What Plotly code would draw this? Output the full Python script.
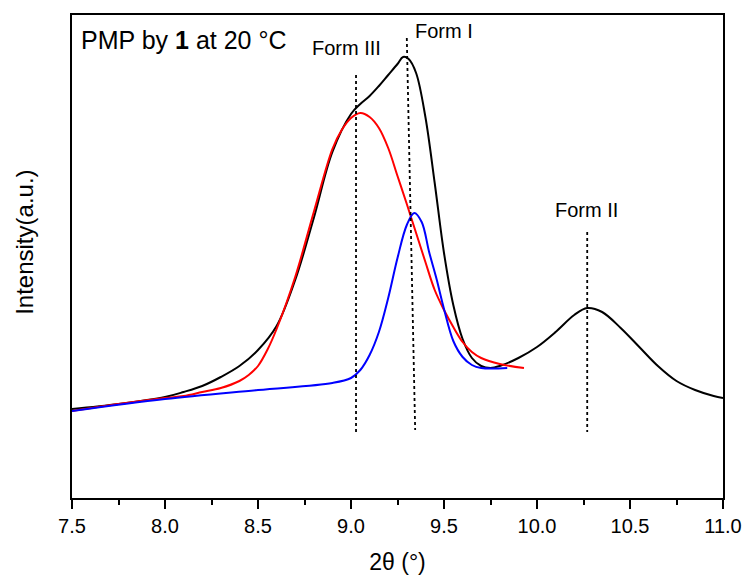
import plotly.graph_objects as go

# Intensity in arbitrary units
black_x = [7.5, 7.75, 8.0, 8.1, 8.2, 8.3, 8.4, 8.5, 8.6, 8.7, 8.8, 8.9, 9.0, 9.05, 9.1, 9.15, 9.2, 9.25,
           9.28, 9.31, 9.35, 9.4, 9.45, 9.5, 9.55, 9.6, 9.65, 9.7, 9.75, 9.8, 9.9, 10.0, 10.1, 10.2, 10.27,
           10.35, 10.45, 10.55, 10.65, 10.75, 10.85, 10.95, 11.0]
black_y = [89, 94, 101, 106, 112, 121, 132, 148, 172, 218, 280, 346, 384, 394, 402, 412, 423, 434,
           441, 439, 425, 381, 315, 245, 193, 159, 140, 132, 130, 132, 140, 151, 166, 183, 190,
           186, 170, 151, 132, 117, 108, 102, 100]

red_x = [7.5, 7.75, 8.0, 8.1, 8.2, 8.3, 8.4, 8.45, 8.5, 8.55, 8.6, 8.7, 8.8, 8.9, 8.95, 9.0, 9.05, 9.1,
         9.15, 9.2, 9.25, 9.3, 9.35, 9.4, 9.45, 9.5, 9.55, 9.6, 9.65, 9.7, 9.8, 9.93]
red_y = [87, 94, 100, 102, 106, 110, 117, 123, 132, 148, 169, 221, 286, 349, 368, 380, 385, 381,
         370, 350, 322, 294, 265, 236, 208, 188, 171, 156, 146, 140, 134, 130]

blue_x = [7.5, 8.0, 8.5, 8.9, 9.0, 9.05, 9.1, 9.15, 9.2, 9.25, 9.3, 9.34, 9.38, 9.42, 9.46, 9.5, 9.55,
          9.6, 9.65, 9.7, 9.84]
blue_y = [87, 99, 108, 115, 120, 128, 143, 166, 200, 240, 273, 285, 276, 246, 219, 189, 157,
          141, 133, 130, 130]

# reference marker lines
form_labels = ["Form III", "Form I", "Form II"]
form_x_top = [9.027, 9.30, 10.27]
form_x_bot = [9.027, 9.345, 10.27]
form_y_top = [423, 460, 266]
form_y_bot = [65, 68, 66]
label_x = [8.975, 9.5, 10.265]
label_y = [450, 467, 288]

x_ticks = [7.5, 8.0, 8.5, 9.0, 9.5, 10.0, 10.5, 11.0]

FONT = "Arial, Liberation Sans, sans-serif"

fig = go.Figure()
for xs, ys, col in [(black_x, black_y, "black"), (red_x, red_y, "#ff0000"), (blue_x, blue_y, "#0000ff")]:
    fig.add_trace(go.Scatter(x=xs, y=ys, mode="lines",
                             line=dict(color=col, width=2, shape="spline", smoothing=1.0)))

for i in range(len(form_labels)):
    fig.add_trace(go.Scatter(x=[form_x_top[i], form_x_bot[i]], y=[form_y_top[i], form_y_bot[i]], mode="lines",
                             line=dict(color="black", width=1.8, dash="3px,3px")))
    fig.add_annotation(x=label_x[i], y=label_y[i], text=form_labels[i], showarrow=False,
                       font=dict(family=FONT, size=20, color="black"))

fig.add_annotation(x=0.01, y=0.948, xref="paper", yref="paper", xanchor="left", yanchor="middle",
                   text="PMP by <b>1</b> at 20 °C", showarrow=False, font=dict(family=FONT, size=25, color="black"))

# y-axis title
fig.add_annotation(x=-0.074, y=0.53, xref="paper", yref="paper", xanchor="center", yanchor="middle",
                   text="Intensity(a.u.)", textangle=-90, showarrow=False,
                   font=dict(family=FONT, size=24, color="black"))

fig.update_layout(
    width=748, height=581,
    margin=dict(l=72, r=25, t=15, b=83, autoexpand=False),
    paper_bgcolor="white", plot_bgcolor="white",
    showlegend=False,
    font=dict(family=FONT, color="black"),
)
fig.update_xaxes(range=[7.5, 11.0], tickvals=x_ticks, ticktext=[f"{v:.1f}" for v in x_ticks],
                 automargin=False, ticklabeloverflow="allow",
                 showline=True, linecolor="black", linewidth=2, mirror=True,
                 ticks="outside", ticklen=9, tickwidth=1.5, tickcolor="black",
                 minor=dict(dtick=0.25, tick0=7.5, ticks="outside", ticklen=5, tickwidth=1.5, tickcolor="black"),
                 showgrid=False, zeroline=False, tickfont=dict(family=FONT, size=20),
                 title=dict(text="2θ (°)", font=dict(family=FONT, size=23), standoff=18))
fig.update_yaxes(range=[0, 483], automargin=False, showline=True, linecolor="black", linewidth=2, mirror=True,
                 showticklabels=False, ticks="", showgrid=False, zeroline=False)

fig.write_html("out.html")
